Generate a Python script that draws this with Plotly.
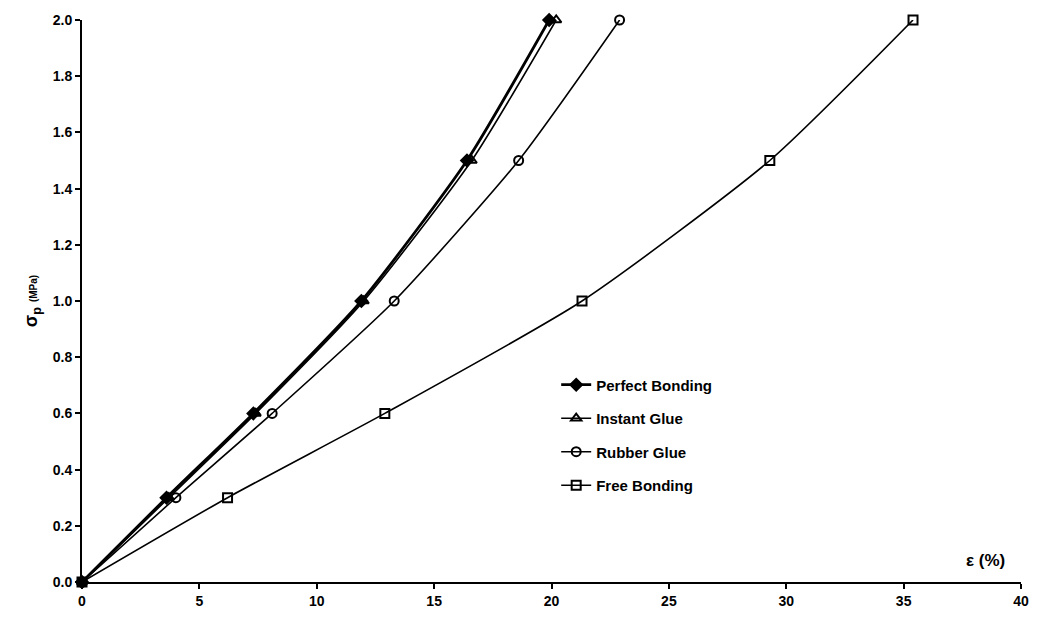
import plotly.graph_objects as go

# Plate pressure vs. strain for four bonding conditions
stress = [0.0, 0.3, 0.6, 1.0, 1.5, 2.0]  # sigma_p (MPa)
strain_perfect = [0.0, 3.6, 7.3, 11.9, 16.4, 19.9]
strain_instant = [0.0, 3.7, 7.4, 12.0, 16.6, 20.2]
strain_rubber = [0.0, 4.0, 8.1, 13.3, 18.6, 22.9]
strain_free = [0.0, 6.2, 12.9, 21.3, 29.3, 35.4]

series_names = ["Perfect Bonding", "Instant Glue", "Rubber Glue", "Free Bonding"]
x_ticks = [0, 5, 10, 15, 20, 25, 30, 35, 40]
y_ticks = [0.0, 0.2, 0.4, 0.6, 0.8, 1.0, 1.2, 1.4, 1.6, 1.8, 2.0]

styles = [
    dict(symbol="diamond", size=9, width=2.8),
    dict(symbol="triangle-up-open", size=9, width=1.6),
    dict(symbol="circle-open", size=9, width=1.6),
    dict(symbol="square-open", size=9, width=1.6),
]

fig = go.Figure()
for name, xs, st in zip(series_names,
                        [strain_perfect, strain_instant, strain_rubber, strain_free],
                        styles):
    fig.add_trace(go.Scatter(
        x=xs, y=stress, name=name, legendgroup=name,
        mode="lines+markers", cliponaxis=False,
        line=dict(color="black", width=st["width"], shape="spline", smoothing=0.6),
        marker=dict(symbol=st["symbol"], size=st["size"], color="black",
                    line=dict(color="black", width=2)),
    ))

base_font = "Liberation Sans, Arial, sans-serif"
tick_font = dict(family=base_font, size=14, color="black", weight="bold")

fig.update_layout(
    width=1048, height=621,
    margin=dict(l=82, r=27, t=12, b=38),
    plot_bgcolor="white", paper_bgcolor="white",
    font=dict(family=base_font, color="black"),
    showlegend=True,
    legend=dict(
        x=0.505, y=0.38, xanchor="left", yanchor="top",
        bgcolor="rgba(0,0,0,0)",
        font=dict(size=15, family=base_font, color="black", weight="bold"),
        tracegroupgap=11, itemwidth=30,
    ),
    xaxis=dict(
        range=[0, 40], tickvals=x_ticks, ticktext=[str(v) for v in x_ticks],
        showgrid=False, zeroline=False, showline=True, linecolor="black", linewidth=2,
        ticks="outside", ticklen=5, tickwidth=1.5, tickcolor="black",
        tickfont=tick_font,
    ),
    yaxis=dict(
        range=[0, 2.0], tickvals=y_ticks, ticktext=[f"{v:.1f}" for v in y_ticks],
        showgrid=False, zeroline=False, showline=True, linecolor="black", linewidth=2,
        ticks="outside", ticklen=5, tickwidth=1.5, tickcolor="black",
        tickfont=tick_font,
        title=dict(text="σ<sub>p</sub> <span style='font-size:10px'>(MPa)</span>",
                   font=dict(size=18, weight="bold"), standoff=10),
    ),
    annotations=[dict(
        text="ε (%)", x=0.962, y=0.038, xref="paper", yref="paper",
        xanchor="center", yanchor="middle", showarrow=False,
        font=dict(size=17, weight="bold", color="black", family=base_font),
    )],
)

fig.write_html("out.html")
